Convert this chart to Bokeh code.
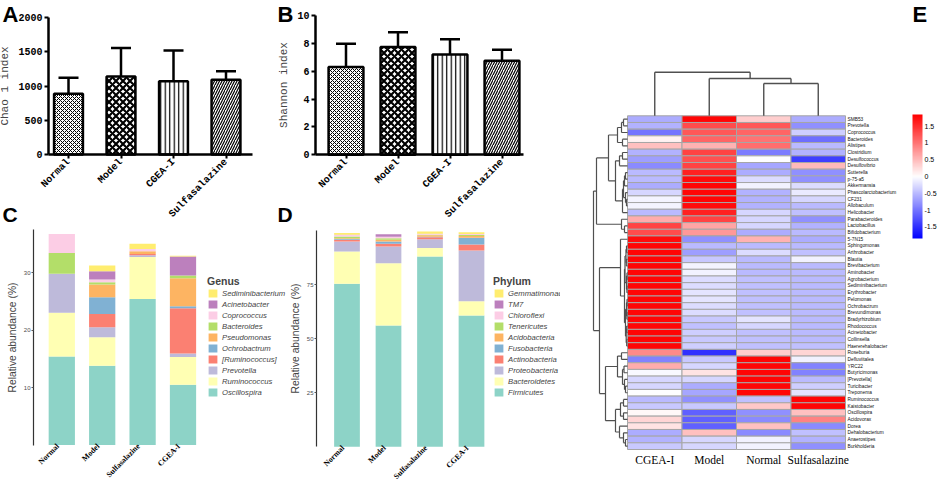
import numpy as np
from math import pi
from bokeh.plotting import figure
from bokeh.layouts import row, column
from bokeh.models import (ColumnDataSource, Range1d, Whisker, TeeHead,
                          Legend, LegendItem, LinearColorMapper)
from bokeh.core.properties import value
from bokeh.embed import file_html
from bokeh.resources import INLINE

# ---------------- data ----------------
alpha_groups = ["Normal", "Model", "CGEA-I", "Sulfasalazine"]
chao1_mean = [886, 1139, 1070, 1091]
chao1_upper = [1120, 1553, 1518, 1216]
shannon_mean = [6.30, 7.74, 7.20, 6.75]
shannon_upper = [7.98, 8.80, 8.30, 7.55]
chao1_ticks = [0, 500, 1000, 1500, 2000]
shannon_ticks = [0, 2, 4, 6, 8, 10]

stack_groups = ["Normal", "Model", "Sulfasalazine", "CGEA-I"]
genus_names = ["Oscillospira", "Ruminococcus", "Prevotella", "[Ruminococcus]", "Ochrobactrum",
               "Pseudomonas", "Bacteroides", "Coprococcus", "Acinetobacter", "Sediminibacterium"]
oscillospira = [15.4, 13.8, 25.4, 10.5]
ruminococcus = [7.6, 4.95, 7.3, 4.8]
prevotella = [6.8, 1.75, 0.3, 0.6]
ruminococcus_br = [0.0, 2.3, 0.2, 7.9]
ochrobactrum = [0.0, 2.9, 0.0, 0.35]
pseudomonas = [0.0, 2.2, 0.5, 4.85]
bacteroides = [3.6, 0.4, 0.0, 0.5]
coprococcus = [3.3, 0.5, 0.4, 0.0]
acinetobacter = [0.0, 1.4, 0.0, 3.3]
sediminibacterium = [0.0, 1.0, 0.9, 0.1]
genus_ticks = [10, 20, 30]

phylum_names = ["Firmicutes", "Bacteroidetes", "Proteobacteria", "Actinobacteria", "Fusobacteria",
                "Acidobacteria", "Tenericutes", "Chloroflexi", "TM7", "Gemmatimonadetes"]
firmicutes = [75.5, 56.2, 88.1, 60.8]
bacteroidetes = [14.9, 28.8, 3.9, 6.6]
proteobacteria = [4.6, 7.7, 4.1, 23.5]
actinobacteria = [0.8, 1.3, 0.9, 2.8]
fusobacteria = [0.4, 1.0, 0.3, 3.1]
acidobacteria = [0.4, 0.8, 0.6, 0.8]
tenericutes = [0.8, 0.8, 0.3, 0.4]
chloroflexi = [0.6, 0.6, 0.3, 0.5]
tm7 = [0.2, 1.2, 0.1, 0.0]
gemmatimonadetes = [0.8, 0.0, 1.1, 0.8]
phylum_ticks = [25, 50, 75]

heat_cols = ["CGEA-I", "Model", "Normal", "Sulfasalazine"]
heat_rows = ["SMB53", "Prevotella", "Coprococcus", "Bacteroides", "Alistipes", "Clostridium",
             "Desulfococcus", "Desulfovibrio", "Sutterella", "p-75-a5", "Akkermansia",
             "Phascolarctobacterium", "CF231", "Allobaculum", "Helicobacter", "Parabacteroides",
             "Lactobacillus", "Bifidobacterium", "5-7N15", "Sphingomonas", "Arthrobacter", "Blautia",
             "Brevibacterium", "Aminobacter", "Agrobacterium", "Sediminibacterium", "Erythrobacter",
             "Pelomonas", "Ochrobactrum", "Brevundimonas", "Bradyrhizobium", "Rhodococcus",
             "Acinetobacter", "Collinsella", "Haererehalobacter", "Roseburia", "Defluviitalea",
             "YRC22", "Butyricimonas", "[Prevotella]", "Turicibacter", "Treponema", "Ruminococcus",
             "Kaistobacter", "Oscillospira", "Acidovorax", "Dorea", "Dehalobacterium",
             "Anaerostipes", "Burkholderia"]
z_cgea = [-0.6, -0.55, -1.0, 0.1, 0.45, -0.55, -0.7, -0.85, -0.5, -0.5, -0.6, -0.3, -0.08, -0.08,
          -0.5, 0.6, 1.35, 1.3, 1.75, 1.8, 1.8, 1.8, 1.8, 1.8, 1.8, 1.8, 1.8, 1.8, 1.8, 1.8, 1.8,
          1.8, 1.8, 1.8, 1.8, 0.85, -0.9, 0.6, -0.05, -0.3, -0.3, 0.0, -0.5, -0.4, 0.05, 0.3, 0.2,
          -0.6, -0.55, -0.4]
z_model = [1.8, 1.3, 1.2, 1.1, 0.55, 1.35, 1.25, 1.35, 1.6, 1.75, 1.8, 1.8, 1.8, 1.75, 1.6, 1.35,
           0.65, 0.75, -0.8, -0.5, -0.7, -0.4, -0.08, -0.1, -0.25, -0.25, -0.2, -0.2, -0.25, -0.25,
           -0.4, -0.45, -0.35, -0.4, -0.35, -1.5, -0.4, -0.3, 0.2, -0.3, -0.6, -0.65, -0.8, -0.4,
           -1.15, -1.15, -1.15, 0.45, -0.3, -0.3]
z_normal = [0.35, 1.2, 1.1, 1.0, 1.05, -0.95, 0.0, -0.65, -0.6, -0.25, -0.1, -0.55, -0.55, -0.55,
            -0.3, -0.3, -0.3, -0.6, 0.55, -0.5, -0.25, -0.5, -0.5, -0.5, -0.45, -0.45, -0.45, -0.45,
            -0.45, -0.45, -0.2, -0.3, -0.45, -0.45, -0.45, 0.35, 1.8, 1.8, 1.8, 1.8, 1.8, 1.8,
            -0.45, 0.4, -0.8, -0.85, 0.45, -0.85, -0.1, -0.1]
z_sulfa = [-0.6, -0.8, -0.35, -1.05, -0.5, -0.55, -1.4, 0.5, -0.8, -0.8, -0.25, -0.15, -0.3, -0.5,
           -0.45, -0.8, -0.55, -0.5, -0.6, -0.5, -0.45, -0.1, -0.5, -0.5, -0.5, -0.5, -0.5, -0.5,
           -0.5, -0.5, -0.5, -0.5, -0.5, -0.5, -0.45, 0.3, -0.1, -0.9, -0.9, -0.5, -0.35, -0.2,
           1.8, 1.8, 0.45, 0.9, -0.85, -0.45, -0.55, -0.8]
colorbar_ticks = [1.5, 1, 0.5, 0, -0.5, -1, -1.5]
colorbar_labels = ["1.5", "1", "0.5", "0", "-0.5", "-1", "-1.5"]

# dendrograms: (merge height, left, right); leaves are row / column indices
row_tree = (34,
            (31,
             (19,
              (10, (6, (4, 0, 1), 2), (5, 3, 4)),
              (12, (8, (5, 5, 6), 7),
               (5, (4, (3, (2, 8, 9), 10), (2, 11, (1, 12, 13))), 14))),
             (6, 15, (3, 16, 17))),
            (28,
             (7, 18,
              (3, (2.5, (1.5, (1, 19, 20), (1.2, 21, 22)), (1, (0.5, 23, 24), (0.6, 25, 26))),
               (2, (1, (0.5, 27, 28), (0.6, 29, 30)), (1.3, (0.8, 31, 32), (0.8, 33, 34))))),
             (22,
              (10, (6, 35, 36), (5, (3.5, 37, 38), (3, 39, (2, 40, 41)))),
              (12, (7, (4, 42, 43), (4, 44, 45)), (8, 46, (4, 47, (2, 48, 49)))))))
col_tree = (43.6, 0, (37.3, 1, (32.3, 2, 3)))

# ---------------- styles ----------------
hatch_patterns = ["diagonal_cross", "diagonal_cross", "vertical_line", "right_diagonal_line"]
hatch_scales = [4, 7, 4.5, 5]
hatch_weights = [1.0, 2.2, 1.2, 1.2]
set3 = ["#8DD3C7", "#FFFFB3", "#BEBADA", "#FB8072", "#80B1D3", "#FDB462", "#B3DE69",
        "#FCCDE5", "#BC80BD", "#FFED6F"]
MONO = "Liberation Mono"
SANS = "Liberation Sans"
SERIF = "Liberation Serif"


class Geo:
    """Page geometry of a panel: canvas box plus the pixel scale of its data axes."""
    def __init__(self, left, top, w, h, x0px, xs, y0px, ys):
        self.left, self.top, self.w, self.h = left, top, w, h
        self.x0px, self.xs, self.y0px, self.ys = x0px, xs, y0px, ys

    def X(self, px):
        return (px - self.x0px) / self.xs

    def Y(self, py):
        return (self.y0px - py) / self.ys

    def fig(self, **kw):
        p = figure(x_range=Range1d(self.X(self.left), self.X(self.left + self.w)),
                   y_range=Range1d(self.Y(self.top + self.h), self.Y(self.top)),
                   width=self.w, height=self.h, min_border=0, output_backend="svg",
                   toolbar_location=None, **kw)
        p.xgrid.visible = False
        p.ygrid.visible = False
        p.outline_line_color = None
        return p


def letter(p, g, txt, px, py, size="22px"):
    p.text(x=[g.X(px)], y=[g.Y(py)], text=[txt], text_font=value(SANS), text_font_style="bold",
           text_font_size=size, text_baseline="top", text_align="left", text_color="black")


def alpha_panel(g, means, uppers, ticks, ylabel, axis_px, axis_end_px, barw):
    p = g.fig()
    xs = list(range(len(alpha_groups)))
    src = ColumnDataSource(dict(x=xs, top=means, upper=uppers, hatch=hatch_patterns,
                                hs=hatch_scales, hw=hatch_weights))
    p.add_layout(Whisker(source=src, base="x", upper="upper", lower="top", dimension="height",
                         line_width=2.5, line_color="black",
                         upper_head=TeeHead(size=20, line_width=2.5, line_color="black"),
                         lower_head=None))
    p.vbar(x="x", top="top", width=barw, source=src, fill_color="white", line_color="black",
           line_width=2.5, hatch_pattern="hatch", hatch_scale="hs", hatch_weight="hw",
           hatch_color="black")
    p.xaxis.fixed_location = 0
    p.yaxis.fixed_location = g.X(axis_px)
    p.xaxis.bounds = (g.X(axis_px), g.X(axis_end_px))
    p.yaxis.bounds = (0, ticks[-1])
    p.xaxis.ticker = xs
    p.xaxis.major_label_overrides = {i: n for i, n in zip(xs, alpha_groups)}
    p.yaxis.ticker = ticks
    p.yaxis.axis_label = ylabel
    p.yaxis.axis_label_text_font = MONO
    p.yaxis.axis_label_text_font_style = "normal"
    p.yaxis.axis_label_text_font_size = "11px"
    p.yaxis.axis_label_standoff = 4
    p.axis.axis_line_width = 2.5
    p.axis.major_tick_line_width = 2
    p.axis.major_tick_in = 0
    p.axis.major_tick_out = 4
    p.axis.minor_tick_line_color = None
    p.axis.major_label_text_font = MONO
    p.axis.major_label_text_font_style = "bold"
    p.axis.major_label_text_font_size = "10px"
    p.axis.major_label_text_color = "black"
    p.axis.major_label_standoff = 2
    p.xaxis.major_label_orientation = pi / 4
    return p


def stack_panel(g, names, values, ticks, axis_px, axis_top, title, legend_px, barw):
    p = g.fig()
    data = {"x": list(range(len(stack_groups)))}
    keys = ["s%d" % i for i in range(len(names))]
    for k, v in zip(keys, values):
        data[k] = v
    rs = p.vbar_stack(keys, x="x", width=barw, fill_color=set3, line_color=None,
                      source=ColumnDataSource(data))
    items = [LegendItem(label=n, renderers=[r]) for n, r in zip(names, rs)][::-1]
    leg = Legend(items=items, location=(legend_px[0] - g.left, g.top + g.h - legend_px[1]),
                 title=title, title_text_font=SANS, title_text_font_style="bold",
                 title_text_font_size="10.5px", title_standoff=1, label_text_font=SANS,
                 label_text_font_style="italic", label_text_font_size="7.7px", glyph_width=11,
                 glyph_height=10, label_height=10, spacing=1, padding=0, margin=0,
                 label_standoff=4, background_fill_alpha=0, border_line_color=None)
    p.add_layout(leg)
    p.xaxis.visible = False
    p.yaxis.fixed_location = g.X(axis_px)
    p.yaxis.bounds = (0, axis_top)
    p.yaxis.ticker = ticks
    p.yaxis.axis_label = "Relative abundance (%)"
    p.yaxis.axis_label_text_font = SANS
    p.yaxis.axis_label_text_font_style = "normal"
    p.yaxis.axis_label_text_font_size = "10.3px"
    p.yaxis.axis_label_standoff = 3
    p.yaxis.axis_line_color = "#333333"
    p.yaxis.axis_line_width = 1.2
    p.yaxis.major_tick_line_color = "#555555"
    p.yaxis.major_tick_in = 0
    p.yaxis.major_tick_out = 2
    p.yaxis.minor_tick_line_color = None
    p.yaxis.major_label_text_font = SANS
    p.yaxis.major_label_text_font_size = "6px"
    p.yaxis.major_label_text_color = "#4D4D4D"
    p.yaxis.major_label_standoff = 1
    p.text(x=data["x"], y=[0] * len(stack_groups), text=stack_groups, angle=pi / 4,
           x_offset=-4, y_offset=0, text_align="right", text_baseline="middle",
           text_font=value(SERIF), text_font_style="bold", text_font_size="7.8px",
           text_color="black")
    return p


# ---------------- panels A & B ----------------
gA = Geo(0, 0, 268, 226, 68, 52.5, 154, 137 / 2000)
gB = Geo(268, 0, 292, 226, 345.5, 52, 154.3, 13.93)
pa = alpha_panel(gA, chao1_mean, chao1_upper, chao1_ticks, "Chao 1 index", 48, 252, 0.55)
letter(pa, gA, "A", 2, 1)
letter(pa, gA, "C", 2, 202, "21px")
pb = alpha_panel(gB, shannon_mean, shannon_upper, shannon_ticks, "Shannon index", 315, 523, 0.67)
letter(pb, gB, "B", 277, 1)
letter(pb, gB, "D", 277, 202, "21px")

# ---------------- panels C & D ----------------
gC = Geo(0, 226, 288, 256, 61.3, 40.4, 444.5, 5.75)
gD = Geo(288, 226, 272, 256, 346.5, 41.5, 446.3, 2.16)
genus_values = [oscillospira, ruminococcus, prevotella, ruminococcus_br, ochrobactrum,
                pseudomonas, bacteroides, coprococcus, acinetobacter, sediminibacterium]
pc = stack_panel(gC, genus_names, genus_values, genus_ticks, 33, gC.Y(229), "Genus",
                 (207, 397), 0.65)
phylum_values = [firmicutes, bacteroidetes, proteobacteria, actinobacteria, fusobacteria,
                 acidobacteria, tenericutes, chloroflexi, tm7, gemmatimonadetes]
pd_ = stack_panel(gD, phylum_names, phylum_values, phylum_ticks, 316, 100, "Phylum",
                  (493, 397), 0.62)

# ---------------- panel E (heatmap) ----------------
nrow = len(heat_rows)
colw, rowh = 54.5, 6.674
gE = Geo(560, 0, 381, 482, 627, colw, 115.3 + nrow * rowh, rowh)
pe = gE.fig(x_axis_location=None, y_axis_location=None)

palette = []
for i in range(256):
    t = i / 255
    if t < 0.5:
        f = t / 0.5
        palette.append("#%02x%02x%02x" % (int(255 * f), int(255 * f), 255))
    else:
        f = (t - 0.5) / 0.5
        palette.append("#%02x%02x%02x" % (255, int(255 * (1 - f)), int(255 * (1 - f))))
zlim = 1.85
mapper = LinearColorMapper(palette=palette, low=-zlim, high=zlim)

cols_z = [z_cgea, z_model, z_normal, z_sulfa]
hx, hy, hz = [], [], []
for ci, zc in enumerate(cols_z):
    for ri, zv in enumerate(zc):
        hx.append(ci + 0.5)
        hy.append(nrow - ri - 0.5)
        hz.append(zv)
pe.rect(x="x", y="y", width=1, height=1, fill_color={"field": "z", "transform": mapper},
        line_color="#A6A6A6", line_width=1,
        source=ColumnDataSource(dict(x=hx, y=hy, z=hz)))

pe.text(x=[gE.X(847)] * nrow, y=[nrow - r - 0.5 for r in range(nrow)], text=heat_rows,
        text_font=value(SANS), text_font_size="4.8px", text_baseline="middle", text_align="left",
        text_color="#111111")
pe.text(x=[c + 0.5 for c in range(len(heat_cols))], y=[gE.Y(459)] * len(heat_cols),
        text=heat_cols, text_font=value(SERIF), text_font_size="11.5px",
        text_baseline="middle", text_align="center", text_color="black")


def tree_segments(node, pos, out):
    if isinstance(node, int):
        return pos(node), 0.0
    h, a, b = node
    pa_, ha = tree_segments(a, pos, out)
    pb_, hb = tree_segments(b, pos, out)
    out.append((h, pa_, h, pb_))
    out.append((ha, pa_, h, pa_))
    out.append((hb, pb_, h, pb_))
    return (pa_ + pb_) / 2, h


rsegs = []
tree_segments(row_tree, lambda r: nrow - r - 0.5, rsegs)
pe.segment(x0=[-s[0] / colw for s in rsegs], y0=[s[1] for s in rsegs],
           x1=[-s[2] / colw for s in rsegs], y1=[s[3] for s in rsegs],
           line_color="#505050", line_width=1.2)
csegs = []
tree_segments(col_tree, lambda c: c + 0.5, csegs)
pe.segment(x0=[s[1] for s in csegs], y0=[nrow + s[0] / rowh for s in csegs],
           x1=[s[3] for s in csegs], y1=[nrow + s[2] / rowh for s in csegs],
           line_color="#505050", line_width=1.4)

# colour key
cb_x0 = gE.X(912)
cb_w = 10 / colw
cb_y0 = gE.Y(238)
cb_h = (238 - 114) / rowh
grad = np.linspace(-zlim, zlim, 256).reshape(256, 1)
pe.image(image=[grad], x=cb_x0, y=cb_y0, dw=cb_w, dh=cb_h, color_mapper=mapper)
pe.text(x=[gE.X(924)] * len(colorbar_ticks),
        y=[cb_y0 + (v + zlim) / (2 * zlim) * cb_h for v in colorbar_ticks],
        text=colorbar_labels, text_font=value(SANS), text_font_size="7px",
        text_baseline="middle", text_align="left", text_color="black")
letter(pe, gE, "E", 912, 1)

layout = row(column(row(pa, pb), row(pc, pd_)), pe)
open("out.html", "w").write(file_html(layout, INLINE))
